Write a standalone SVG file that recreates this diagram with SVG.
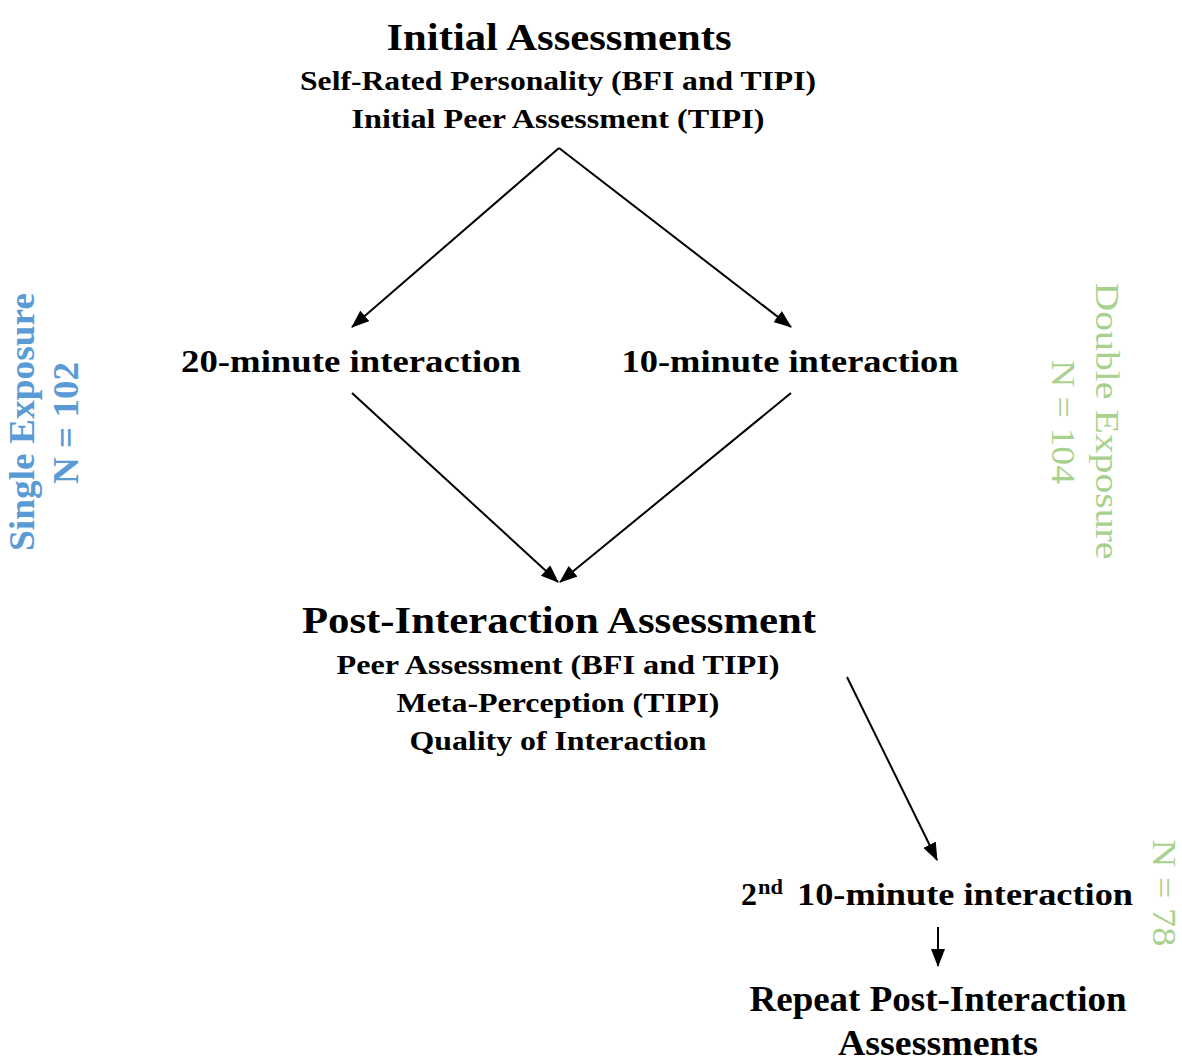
<svg xmlns="http://www.w3.org/2000/svg" width="1182" height="1062" viewBox="0 0 1182 1062">
<style>
text{font-family:"Liberation Serif","Times New Roman",serif;font-weight:bold;fill:#000;text-anchor:middle}
.t{font-size:38px}
.s{font-size:27px}
.m{font-size:32px}
.st{text-anchor:start}
.blue{fill:#5B9BD5;font-size:35px}
.green{fill:#A9D18E;font-size:34px;font-weight:normal}
.c line{stroke:#000;stroke-width:2;marker-end:url(#ah)}
</style>
<defs>
<marker id="ah" viewBox="0 0 18 14" refX="17" refY="7" markerWidth="18" markerHeight="14" markerUnits="userSpaceOnUse" orient="auto">
<path d="M0,0 L18,7 L0,14 z" fill="#000"/>
</marker>
</defs>
<rect width="1182" height="1062" fill="#fff"/>
<g id="initial">
<text class="t" x="559" y="50" textLength="345" lengthAdjust="spacingAndGlyphs">Initial Assessments</text>
<text class="s" x="558" y="90" textLength="516" lengthAdjust="spacingAndGlyphs">Self-Rated Personality (BFI and TIPI)</text>
<text class="s" x="558" y="128" textLength="413" lengthAdjust="spacingAndGlyphs">Initial Peer Assessment (TIPI)</text>
</g>
<g id="int20">
<text class="m" x="351" y="372" textLength="340" lengthAdjust="spacingAndGlyphs">20-minute interaction</text>
</g>
<g id="int10">
<text class="m" x="790" y="372" textLength="337" lengthAdjust="spacingAndGlyphs">10-minute interaction</text>
</g>
<g id="post">
<text class="t" x="559" y="633" textLength="514" lengthAdjust="spacingAndGlyphs">Post-Interaction Assessment</text>
<text class="s" x="558" y="674" textLength="443" lengthAdjust="spacingAndGlyphs">Peer Assessment (BFI and TIPI)</text>
<text class="s" x="558" y="712" textLength="323" lengthAdjust="spacingAndGlyphs">Meta-Perception (TIPI)</text>
<text class="s" x="558" y="750" textLength="297" lengthAdjust="spacingAndGlyphs">Quality of Interaction</text>
</g>
<g id="int2">
<text class="m st" x="741" y="905">2<tspan font-size="22" dy="-11" dx="1" textLength="25" lengthAdjust="spacingAndGlyphs">nd</tspan></text>
<text class="m st" x="797" y="905" textLength="336" lengthAdjust="spacingAndGlyphs">10-minute interaction</text>
</g>
<g id="repeat">
<text class="m" x="938" y="1011" style="font-size:35px" textLength="377" lengthAdjust="spacingAndGlyphs">Repeat Post-Interaction</text>
<text class="m" x="938" y="1055" style="font-size:35px" textLength="200" lengthAdjust="spacingAndGlyphs">Assessments</text>
</g>
<g id="single">
<text class="blue" transform="translate(34,422) rotate(-90)" textLength="258" lengthAdjust="spacingAndGlyphs">Single Exposure</text>
<text class="blue" transform="translate(78,423) rotate(-90)" textLength="122" lengthAdjust="spacingAndGlyphs">N = 102</text>
</g>
<g id="double">
<text class="green" transform="translate(1096,421) rotate(90)" textLength="277" lengthAdjust="spacingAndGlyphs">Double Exposure</text>
<text class="green" transform="translate(1052,422) rotate(90)" textLength="124" lengthAdjust="spacingAndGlyphs">N = 104</text>
<text class="green" transform="translate(1153,893) rotate(90)" textLength="107" lengthAdjust="spacingAndGlyphs">N = 78</text>
</g>
<g id="connectors" class="c">
<line x1="559" y1="148" x2="352" y2="327"/>
<line x1="559" y1="148" x2="791" y2="327"/>
<line x1="352" y1="393" x2="558" y2="582"/>
<line x1="791" y1="393" x2="560" y2="582"/>
<line x1="847" y1="677" x2="937" y2="860"/>
<line x1="938" y1="927" x2="938" y2="966"/>
</g>
</svg>
